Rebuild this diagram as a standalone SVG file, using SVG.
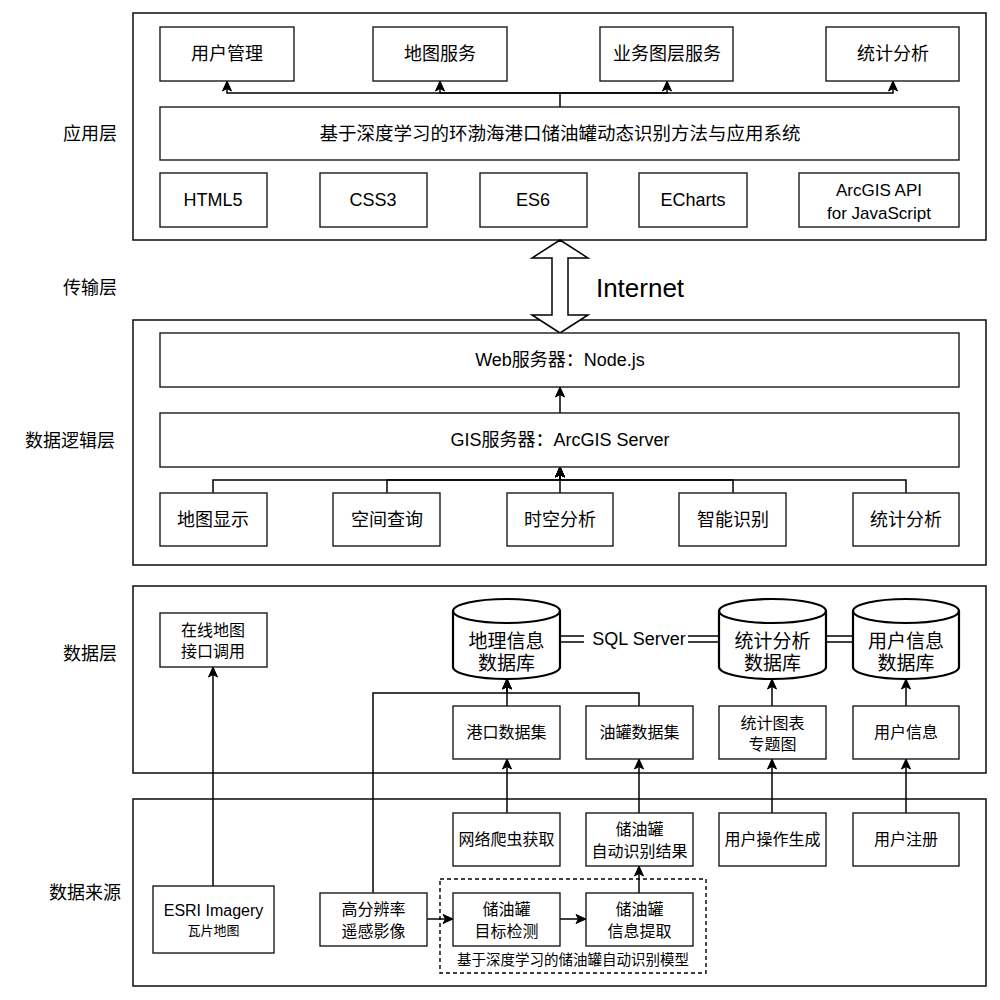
<svg xmlns="http://www.w3.org/2000/svg" width="1000" height="1000" viewBox="0 0 1000 1000">
<style>
text{font-family:"Liberation Sans","Noto Sans CJK SC",sans-serif;fill:#000;text-anchor:middle}
.c{fill:none;stroke:#1a1a1a;stroke-width:1.6}
.b{fill:#fff;stroke:#1a1a1a;stroke-width:1.4}
.t{font-size:18px}
.s{font-size:16px}
.l{font-size:18px}
.cy{fill:#fff;stroke:#000;stroke-width:2.2}
.ct{font-size:19px}
.e{fill:none;stroke:#000;stroke-width:1.5}
.a{fill:none;stroke:#000;stroke-width:1.5;marker-end:url(#ar)}
</style>
<defs>
<marker id="ar" markerUnits="userSpaceOnUse" markerWidth="12" markerHeight="12" viewBox="0 0 12 12" refX="11" refY="6" orient="auto">
<path d="M1,1.5 L11,6 L1,10.5 L3.5,6 Z" fill="#000" stroke="#000" stroke-width="1"/>
</marker>
</defs>
<rect width="1000" height="1000" fill="#fff"/>
<g id="labels">
<text class="l" x="90" y="140">应用层</text>
<text class="l" x="90" y="294">传输层</text>
<text class="l" x="70" y="447">数据逻辑层</text>
<text class="l" x="90" y="660">数据层</text>
<text class="l" x="85" y="899">数据来源</text>
</g>
<g id="containers">
<rect class="c" x="133" y="13" width="853" height="227"/>
<rect class="c" x="133" y="320" width="853" height="245"/>
<rect class="c" x="133" y="586" width="853" height="187"/>
<rect class="c" x="133" y="799" width="853" height="187"/>
<rect x="440" y="879" width="266" height="94" fill="none" stroke="#000" stroke-width="1.4" stroke-dasharray="4,3"/>
<text x="573" y="965" style="font-size:14.5px">基于深度学习的储油罐自动识别模型</text>
</g>
<g id="connectors">
<path class="e" d="M560,107 V93"/>
<path class="a" d="M560,93 H227 V81"/>
<path class="a" d="M560,93 H440 V81"/>
<path class="a" d="M560,93 H667 V81"/>
<path class="a" d="M560,93 H893 V81"/>
<path d="M560,240 L588,258 L568,258 L568,315 L588,315 L560,333 L532,315 L552,315 L552,258 L532,258 Z" fill="#fff" stroke="#000" stroke-width="1.5"/>
<text x="640" y="297" style="font-size:26px">Internet</text>
<path class="a" d="M560,413 V387"/>
<path class="a" d="M213,493 V480 H560 V467"/>
<path class="a" d="M387,493 V480 H560 V467"/>
<path class="a" d="M560,493 V467"/>
<path class="a" d="M733,493 V480 H560 V467"/>
<path class="a" d="M906,493 V480 H560 V467"/>
<path class="a" d="M507,706 V679"/>
<path class="a" d="M373,893 V693 H507 V679"/>
<path class="a" d="M639,706 V693 H507 V679"/>
<path class="a" d="M772,706 V679"/>
<path class="a" d="M906,706 V679"/>
<path class="a" d="M213,886 V667"/>
<path class="a" d="M507,813 V759"/>
<path class="a" d="M639,813 V759"/>
<path class="a" d="M772,813 V759"/>
<path class="a" d="M906,813 V759"/>
<path class="a" d="M427,919 H453"/>
<path class="a" d="M560,919 H586"/>
<path class="a" d="M639,893 V866"/>
<path class="e" d="M560,636 H584 M560,642 H584 M688,636 H719 M688,642 H719 M826,636 H853 M826,642 H853"/>
<text x="639" y="645" style="font-size:18px">SQL Server</text>
</g>
<g id="n-yhgl"><rect class="b" x="160" y="27" width="134" height="54"/><text class="t" x="227" y="60">用户管理</text></g>
<g id="n-dtfw"><rect class="b" x="373" y="27" width="134" height="54"/><text class="t" x="440" y="60">地图服务</text></g>
<g id="n-ywtc"><rect class="b" x="600" y="27" width="133" height="54"/><text class="t" x="667" y="60">业务图层服务</text></g>
<g id="n-tjfx1"><rect class="b" x="826" y="27" width="133" height="54"/><text class="t" x="893" y="60">统计分析</text></g>
<g id="n-sys"><rect class="b" x="160" y="107" width="799" height="53"/><text x="560" y="140" style="font-size:18.5px">基于深度学习的环渤海港口储油罐动态识别方法与应用系统</text></g>
<g id="n-html"><rect class="b" x="160" y="173" width="107" height="54"/><text class="t" x="213" y="206">HTML5</text></g>
<g id="n-css"><rect class="b" x="320" y="173" width="107" height="54"/><text class="t" x="373" y="206">CSS3</text></g>
<g id="n-es6"><rect class="b" x="480" y="173" width="107" height="54"/><text class="t" x="533" y="206">ES6</text></g>
<g id="n-ech"><rect class="b" x="639" y="173" width="108" height="54"/><text class="t" x="693" y="206">ECharts</text></g>
<g id="n-arcapi"><rect class="b" x="799" y="173" width="160" height="54"/><text x="879" y="196" style="font-size:17px">ArcGIS API</text><text x="879" y="219" style="font-size:17px">for JavaScript</text></g>
<g id="n-web"><rect class="b" x="160" y="333" width="799" height="54"/><text class="t" x="560" y="366">Web服务器：Node.js</text></g>
<g id="n-gis"><rect class="b" x="160" y="413" width="799" height="54"/><text class="t" x="560" y="446">GIS服务器：ArcGIS Server</text></g>
<g id="n-dtxs"><rect class="b" x="160" y="493" width="107" height="53"/><text class="t" x="213" y="526">地图显示</text></g>
<g id="n-kjcx"><rect class="b" x="333" y="493" width="107" height="53"/><text class="t" x="387" y="526">空间查询</text></g>
<g id="n-skfx"><rect class="b" x="507" y="493" width="106" height="53"/><text class="t" x="560" y="526">时空分析</text></g>
<g id="n-znsb"><rect class="b" x="679" y="493" width="107" height="53"/><text class="t" x="733" y="526">智能识别</text></g>
<g id="n-tjfx2"><rect class="b" x="853" y="493" width="106" height="53"/><text class="t" x="906" y="526">统计分析</text></g>
<g id="n-zxdt"><rect class="b" x="160" y="613" width="107" height="54"/><text class="s" x="213" y="636">在线地图</text><text class="s" x="213" y="657">接口调用</text></g>
<g id="db-dl"><path class="cy" d="M453,611 V667 A53.5,12 0 0 0 560,667 V611"/><ellipse class="cy" cx="506.5" cy="611" rx="53.5" ry="12"/><text class="ct" x="506.5" y="648">地理信息</text><text class="ct" x="506.5" y="670">数据库</text></g>
<g id="db-tj"><path class="cy" d="M719,611 V667 A53.5,12 0 0 0 826,667 V611"/><ellipse class="cy" cx="772.5" cy="611" rx="53.5" ry="12"/><text class="ct" x="772.5" y="648">统计分析</text><text class="ct" x="772.5" y="670">数据库</text></g>
<g id="db-yh"><path class="cy" d="M853,611 V667 A53,12 0 0 0 959,667 V611"/><ellipse class="cy" cx="906" cy="611" rx="53" ry="12"/><text class="ct" x="906" y="648">用户信息</text><text class="ct" x="906" y="670">数据库</text></g>
<g id="n-gk"><rect class="b" x="453" y="706" width="107" height="53"/><text class="s" x="506.5" y="738">港口数据集</text></g>
<g id="n-yg"><rect class="b" x="586" y="706" width="107" height="53"/><text class="s" x="639.5" y="738">油罐数据集</text></g>
<g id="n-tjtb"><rect class="b" x="719" y="706" width="107" height="53"/><text class="s" x="772.5" y="729">统计图表</text><text class="s" x="772.5" y="750">专题图</text></g>
<g id="n-yhxx"><rect class="b" x="853" y="706" width="106" height="53"/><text class="s" x="906" y="738">用户信息</text></g>
<g id="n-esri"><rect class="b" x="153" y="886" width="121" height="67"/><text class="s" x="213.5" y="916">ESRI Imagery</text><text x="213.5" y="935" style="font-size:13px">瓦片地图</text></g>
<g id="n-gfbl"><rect class="b" x="320" y="893" width="107" height="53"/><text class="s" x="373.5" y="915">高分辨率</text><text class="s" x="373.5" y="937">遥感影像</text></g>
<g id="n-pc"><rect class="b" x="453" y="813" width="107" height="53"/><text class="s" x="506.5" y="845">网络爬虫获取</text></g>
<g id="n-sbjg"><rect class="b" x="586" y="813" width="107" height="53"/><text class="s" x="639.5" y="835">储油罐</text><text class="s" x="639.5" y="857">自动识别结果</text></g>
<g id="n-czsc"><rect class="b" x="719" y="813" width="107" height="53"/><text class="s" x="772.5" y="845">用户操作生成</text></g>
<g id="n-zc"><rect class="b" x="853" y="813" width="106" height="53"/><text class="s" x="906" y="845">用户注册</text></g>
<g id="n-mbjc"><rect class="b" x="453" y="893" width="107" height="53"/><text class="s" x="506.5" y="915">储油罐</text><text class="s" x="506.5" y="937">目标检测</text></g>
<g id="n-xxtq"><rect class="b" x="586" y="893" width="107" height="53"/><text class="s" x="639.5" y="915">储油罐</text><text class="s" x="639.5" y="937">信息提取</text></g>
</svg>
